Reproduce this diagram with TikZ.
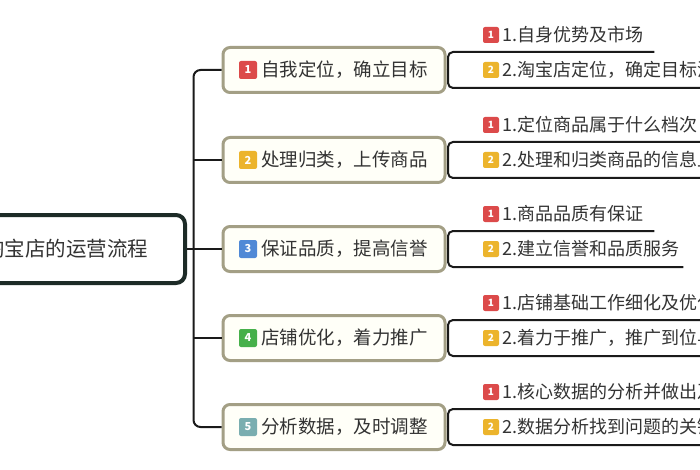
\documentclass[tikz,border=0pt]{standalone}
\usepackage{fontspec}
\setmainfont{Noto Sans CJK SC}
\usetikzlibrary{calc}
\definecolor{txt}{HTML}{333333}
\definecolor{centralc}{HTML}{1D2B27}
\definecolor{topicc}{HTML}{A39F85}
\definecolor{topicf}{HTML}{FFFFF8}
\definecolor{linec}{HTML}{1A1A1A}
\definecolor{bred}{HTML}{DC4A4A}
\definecolor{borange}{HTML}{ECB42C}
\definecolor{bblue}{HTML}{5089D6}
\definecolor{bgreen}{HTML}{46B04A}
\definecolor{bteal}{HTML}{7AAEB0}
\tikzset{
  central/.style={draw=centralc, line width=4pt, rounded corners=9pt, fill=white,
    minimum width=238pt, minimum height=68pt, inner sep=0pt,
    font=\fontsize{20.5}{24}\selectfont, text=txt},
  topic/.style={draw=topicc, line width=3pt, rounded corners=7pt, fill=topicf,
    minimum width=222pt, minimum height=45pt, inner sep=0pt},
  toptext/.style={anchor=west, inner sep=0pt, font=\fontsize{18.5}{22}\selectfont, text=txt},
  subtext/.style={anchor=west, inner sep=0pt, font=\fontsize{18}{22}\selectfont, text=txt},
  bigbadge/.style={fill=#1, rounded corners=2pt, minimum size=18pt, inner sep=0pt,
    text=white, font=\bfseries\fontsize{11}{11}\selectfont},
  smallbadge/.style={fill=#1, rounded corners=2pt, minimum size=16pt, inner sep=0pt,
    text=white, font=\bfseries\fontsize{10}{10}\selectfont},
  link/.style={draw=linec, line width=2pt},
}
\begin{document}
\begin{tikzpicture}[x=1pt,y=-1pt]
\useasboundingbox (0,0) rectangle (700,470);
\clip (0,0) rectangle (700,470);
\fill[white] (0,0) rectangle (700,470);

% central
\node[central] (c) at (66,249) {淘宝店的运营流程};

% level-1 topics
\foreach \i/\y/\col/\t in {1/70/bred/自我定位，确立目标,
                          2/160/borange/处理归类，上传商品,
                          3/249/bblue/保证品质，提高信誉,
                          4/338/bgreen/店铺优化，着力推广,
                          5/427/bteal/分析数据，及时调整}{
  \node[topic] (l\i) at (334,\y) {};
  \node[bigbadge=\col] (lb\i) at (248,\y) {\i};
  \node[toptext] (lt\i) at (261,\y) {\t};
}

% trunk
\draw[link, rounded corners=7pt] (l1.west) -- ++(-28,0) |- (l5.west);
\draw[link] (l2.west) -- ++(-28,0);
\draw[link] (l3.west) -- ++(-28,0);
\draw[link] (l4.west) -- ++(-28,0);
\draw[link] (c.east) -- ++(12,0);

% level-2 items
\foreach \i/\y/\ta/\tb in {1/70/1.自身优势及市场/2.淘宝店定位，确定目标消,
                          2/160/1.定位商品属于什么档次/2.处理和归类商品的信息上,
                          3/249/1.商品品质有保证/2.建立信誉和品质服务,
                          4/338/1.店铺基础工作细化及优化/2.着力于推广，推广到位与,
                          5/427/1.核心数据的分析并做出及/2.数据分析找到问题的关键}{
  \node[smallbadge=bred] (sa\i) at (491,\y-35) {1};
  \node[subtext] (ta\i) at (502,\y-35) {\ta};
  \node[smallbadge=borange] (sb\i) at (491,\y) {2};
  \node[subtext] (tb\i) at (502,\y) {\tb};
  \coordinate (j\i) at (448,\y);
  \draw[link] (l\i.east) -- (j\i);
  \draw[link, rounded corners=5pt] ($(ta\i.east)+(11,17)$) -| (j\i) |- ($(tb\i.east)+(4,18)$);
}
\end{tikzpicture}
\end{document}
